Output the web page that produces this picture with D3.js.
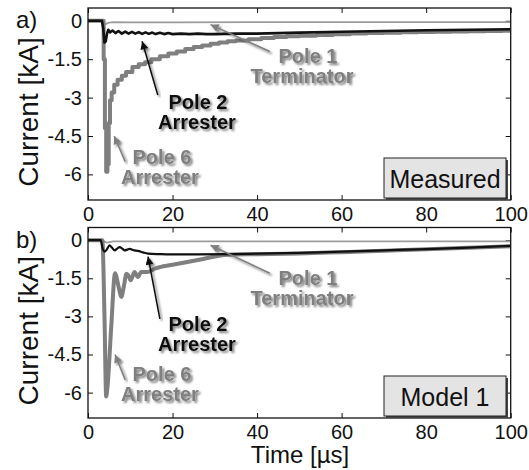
<!DOCTYPE html>
<html>
<head>
<meta charset="utf-8">
<script src="https://cdn.jsdelivr.net/npm/d3@7"></script>
<style>
  body { margin: 0; background: #fff; }
  svg { display: block; font-family: "Liberation Sans", Arial, sans-serif; }
</style>
</head>
<body>
<svg id="main" width="529" height="470"></svg>
<script>
// axis ticks
var xTicks = [0, 20, 40, 60, 80, 100];
var yTicks = [0, -1.5, -3, -4.5, -6];

// a) measured
var measT1 = [0, 3.4, 4.0, 4.5, 5, 6, 10, 20, 40, 60, 80, 100];
var measI1 = [0, 0, -0.15, -0.1, -0.07, -0.05, -0.06, -0.06, -0.05, -0.05, -0.05, -0.05];

var measT2 = [0, 3.3, 3.6, 3.9, 4.2, 4.5, 4.8, 5.2, 5.8, 6.5, 7.2, 8.0, 8.8, 9.6, 10.4, 11.2, 12.0, 12.8, 13.6, 14.4, 15.2, 16, 17, 18, 19, 20, 22, 24, 26, 28, 30, 35, 40, 50, 60, 70, 80, 90, 100];
var measI2 = [0, 0, -0.3, -0.85, -0.8, -0.5, -0.35, -0.45, -0.38, -0.48, -0.4, -0.5, -0.42, -0.5, -0.43, -0.5, -0.44, -0.51, -0.45, -0.51, -0.46, -0.52, -0.47, -0.52, -0.48, -0.52, -0.5, -0.52, -0.5, -0.52, -0.52, -0.5, -0.5, -0.46, -0.43, -0.4, -0.37, -0.35, -0.33];

var measT6 = [0, 3.4, 3.7, 4.0, 4.3, 4.6, 4.9, 5.2, 5.6, 6.2, 7.0, 8.0, 9.0, 10.5, 12, 13.5, 15, 17, 19, 21, 23, 25, 27, 29, 31, 33, 35, 38, 41, 44, 47, 50, 54, 58, 62, 66, 70, 74, 78, 82, 86, 90, 94, 98, 100];
var measI6 = [0, 0, -1.5, -4.2, -5.9, -5.6, -4.0, -3.1, -2.8, -2.5, -2.3, -2.15, -2.0, -1.8, -1.7, -1.62, -1.5, -1.38, -1.28, -1.2, -1.1, -1.02, -0.96, -0.9, -0.85, -0.8, -0.77, -0.72, -0.67, -0.63, -0.6, -0.58, -0.55, -0.53, -0.5, -0.48, -0.47, -0.45, -0.44, -0.43, -0.42, -0.41, -0.4, -0.39, -0.38];

// b) model 1
var modT1 = [0, 3.4, 4.5, 6, 10, 100];
var modI1 = [0, 0, -0.1, -0.05, -0.05, -0.05];

var modT2 = [0, 3.0, 3.5, 4.0, 4.5, 5.1, 5.7, 6.3, 6.9, 7.5, 8.1, 8.7, 9.3, 9.8, 11, 11.8, 13, 14.2, 17, 19.7, 26, 33, 40, 50, 60, 70, 80, 90, 100];
var modI2 = [0, 0, -0.35, -0.45, -0.35, -0.2, -0.3, -0.4, -0.33, -0.27, -0.33, -0.4, -0.37, -0.34, -0.4, -0.42, -0.48, -0.53, -0.55, -0.56, -0.56, -0.55, -0.53, -0.5, -0.45, -0.4, -0.35, -0.29, -0.22];

var modT6 = [0, 3.4, 3.9, 4.3, 4.6, 5.5, 6.4, 7.2, 7.9, 8.5, 9.1, 9.6, 10.1, 10.6, 11.0, 11.8, 12.6, 14.2, 15.8, 17, 20, 26, 33, 40, 50, 60, 70, 80, 90, 100];
var modI6 = [0, 0, -3.0, -6.15, -5.8, -3.4, -1.3, -1.8, -2.23, -1.8, -1.32, -1.4, -1.58, -1.4, -1.25, -1.45, -1.25, -1.25, -1.12, -1.06, -0.97, -0.78, -0.57, -0.55, -0.52, -0.47, -0.42, -0.36, -0.3, -0.24];

var left = 88, right = 510.7;
var s = d3.select("#main");

var defs = s.append("defs");
var f = defs.append("filter").attr("id", "sh")
  .attr("x", "-10%").attr("y", "-20%").attr("width", "130%").attr("height", "160%");
f.append("feDropShadow").attr("dx", 2).attr("dy", 2).attr("stdDeviation", 1.3)
  .attr("flood-color", "#000").attr("flood-opacity", 0.5);

["#111", "#7f7f7f"].forEach(function(c, i) {
  defs.append("marker").attr("id", "ah" + i)
    .attr("viewBox", "0 0 10 10").attr("refX", 10).attr("refY", 5)
    .attr("markerUnits", "userSpaceOnUse")
    .attr("markerWidth", 10).attr("markerHeight", 8).attr("orient", "auto")
    .append("path").attr("d", "M0,0L10,5L0,10Z").attr("fill", c);
});

function zip(t, v) { return t.map(function(d, i) { return [d, v[i]]; }); }

function drawPanel(top, bottom, id, tag, boxText, series, notes) {
  var x = d3.scaleLinear().domain([0, 100]).range([left, right]);
  var y = d3.scaleLinear().domain([-7, 0.5]).range([bottom, top]);
  var g = s.append("g");

  defs.append("clipPath").attr("id", "clip" + id).append("rect")
    .attr("x", left).attr("y", top).attr("width", right - left).attr("height", bottom - top);

  var fmt = function(d) { return String(d); };
  var ax = function(a) {
    a.selectAll(".domain").remove();
    a.selectAll("line").attr("stroke", "#111").attr("stroke-width", 1);
    a.selectAll("text").attr("font-size", 20).attr("fill", "#111")
      .attr("font-family", "'Liberation Sans', Arial, sans-serif");
  };
  g.append("g").attr("transform", "translate(0," + bottom + ")")
    .call(d3.axisBottom(x).tickValues(xTicks).tickFormat(fmt).tickSizeInner(-5).tickSizeOuter(0).tickPadding(7)).call(ax);
  g.append("g").attr("transform", "translate(0," + top + ")")
    .call(d3.axisTop(x).tickValues(xTicks).tickFormat("").tickSizeInner(-5).tickSizeOuter(0)).call(ax);
  g.append("g").attr("transform", "translate(" + left + ",0)")
    .call(d3.axisLeft(y).tickValues(yTicks).tickFormat(fmt).tickSizeInner(-5).tickSizeOuter(0).tickPadding(6)).call(ax);
  g.append("g").attr("transform", "translate(" + right + ",0)")
    .call(d3.axisRight(y).tickValues(yTicks).tickFormat("").tickSizeInner(-5).tickSizeOuter(0)).call(ax);

  var plot = g.append("g").attr("clip-path", "url(#clip" + id + ")");
  series.forEach(function(se) {
    var line = d3.line().x(function(d) { return x(d[0]); }).y(function(d) { return y(d[1]); }).curve(se.curve);
    plot.append("path").datum(zip(se.t, se.v)).attr("d", line)
      .attr("fill", "none").attr("stroke", se.color).attr("stroke-width", se.w)
      .attr("stroke-linejoin", "round");
  });

  g.append("rect").attr("x", left).attr("y", top).attr("width", right - left).attr("height", bottom - top)
    .attr("fill", "none").attr("stroke", "#111").attr("stroke-width", 1.3);

  // annotations: arrow + two-line label
  notes.forEach(function(n) {
    g.append("line")
      .attr("x1", x(n.from[0])).attr("y1", y(n.from[1]))
      .attr("x2", x(n.to[0])).attr("y2", y(n.to[1]))
      .attr("stroke", n.color).attr("stroke-width", 1.5)
      .attr("marker-end", "url(#ah" + (n.color === "#111" ? 0 : 1) + ")")
      .attr("filter", "url(#sh)");
    n.lines.forEach(function(l) {
      g.append("text").attr("x", l[0]).attr("y", l[1] + top).attr("text-anchor", "middle")
        .attr("font-size", 20).attr("font-weight", "bold").attr("fill", n.color)
        .attr("filter", "url(#sh)").text(l[2]);
    });
  });

  // label box
  var bx = 384, by = bottom - 42, bw = 122, bh = 40;
  g.append("rect").attr("x", bx + 2).attr("y", by + 2).attr("width", bw).attr("height", bh).attr("fill", "#444");
  g.append("rect").attr("x", bx).attr("y", by).attr("width", bw).attr("height", bh)
    .attr("fill", "#e4e4e4").attr("stroke", "#222").attr("stroke-width", 1);
  g.append("text").attr("x", bx + bw / 2).attr("y", by + 30).attr("text-anchor", "middle")
    .attr("font-size", 25).attr("fill", "#111").text(boxText);

  g.append("text").attr("transform", "translate(38," + (top + (bottom - top) / 2 + 8) + ") rotate(-90)")
    .attr("text-anchor", "middle").attr("font-size", 28).attr("fill", "#111").text("Current [kA]");
  g.append("text").attr("x", 16).attr("y", top + 20).attr("font-size", 24).attr("fill", "#111").text(tag);
}

var gray6 = "#7f7f7f", gray1 = "#9c9c9c", blk = "#111";

drawPanel(8, 200, "a", "a)", "Measured", [
  { t: measT1, v: measI1, color: gray1, w: 1.8, curve: d3.curveLinear },
  { t: measT6, v: measI6, color: gray6, w: 4, curve: d3.curveStepAfter },
  { t: measT2, v: measI2, color: blk, w: 2.6, curve: d3.curveLinear }
], [
  { color: blk, from: [16.5, -2.9], to: [12.8, -0.8], lines: [[198, 101, "Pole 2"], [197, 121, "Arrester"]] },
  { color: gray6, from: [8.8, -5.5], to: [6.2, -4.5], lines: [[162, 156, "Pole 6"], [160, 176, "Arrester"]] },
  { color: gray6, from: [43, -1.2], to: [29, -0.15], lines: [[308, 55, "Pole 1"], [302, 75, "Terminator"]] }
]);

drawPanel(227.5, 418, "b", "b)", "Model 1", [
  { t: modT1, v: modI1, color: gray1, w: 1.8, curve: d3.curveLinear },
  { t: modT6, v: modI6, color: gray6, w: 4, curve: d3.curveMonotoneX },
  { t: modT2, v: modI2, color: blk, w: 2.2, curve: d3.curveMonotoneX }
], [
  { color: blk, from: [17, -3.1], to: [14.2, -0.65], lines: [[198, 103, "Pole 2"], [197, 123, "Arrester"]] },
  { color: gray6, from: [8.8, -5.5], to: [6.4, -4.5], lines: [[162, 153, "Pole 6"], [160, 173, "Arrester"]] },
  { color: gray6, from: [43, -1.3], to: [29, -0.2], lines: [[308, 57, "Pole 1"], [302, 77, "Terminator"]] }
]);

s.append("text").attr("x", 300).attr("y", 463).attr("text-anchor", "middle")
  .attr("font-size", 24).attr("fill", "#111").text("Time [\u00b5s]");
</script>
</body>
</html>
